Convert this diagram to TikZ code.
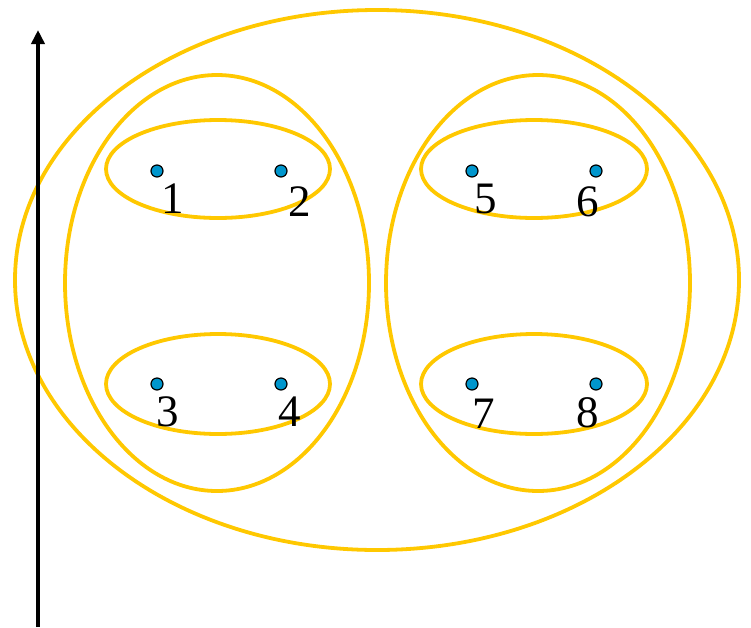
\documentclass[tikz,border=0pt]{standalone}
\usepackage{fontspec}
\setmainfont{Liberation Serif}
\usetikzlibrary{arrows.meta}
\definecolor{ringyellow}{RGB}{255,200,0}
\definecolor{dotblue}{RGB}{0,150,205}
\begin{document}
\begin{tikzpicture}[x=1pt,y=-1pt,
  ring/.style={draw=ringyellow,line width=3.8pt},
  pt/.style={circle,draw=black,fill=dotblue,line width=1.2pt,minimum size=12pt,inner sep=0pt},
  lbl/.style={font=\fontsize{45}{45}\selectfont,inner sep=0pt}]
\useasboundingbox (0,0) rectangle (751,627);
% outer ellipse
\draw[ring] (377,280) ellipse [x radius=362, y radius=270];
% inner big ellipses
\draw[ring] (217,283) ellipse [x radius=152, y radius=208];
\draw[ring] (538,283) ellipse [x radius=152, y radius=208];
% small ellipses
\draw[ring] (218,169) ellipse [x radius=112, y radius=49];
\draw[ring] (218,384) ellipse [x radius=112, y radius=50];
\draw[ring] (534,169) ellipse [x radius=113, y radius=49];
\draw[ring] (534,384) ellipse [x radius=113, y radius=50];
% axis arrow
\coordinate (abot) at (38,627);
\coordinate (atop) at (38,30);
\draw[line width=4pt,-{Triangle[length=14pt,width=13pt]}] (abot) -- (atop);
% points
\node[pt] (p1) at (157,171) {};
\node[pt] (p2) at (281,171) {};
\node[pt] (p3) at (157,384) {};
\node[pt] (p4) at (281,384) {};
\node[pt] (p5) at (472,171) {};
\node[pt] (p6) at (596,171) {};
\node[pt] (p7) at (472,384) {};
\node[pt] (p8) at (596,384) {};
% labels
\node[lbl] (l1) at (173,199) {1};
\node[lbl] (l2) at (300,202) {2};
\node[lbl] (l3) at (168,412) {3};
\node[lbl] (l4) at (290,412) {4};
\node[lbl] (l5) at (486,199) {5};
\node[lbl] (l6) at (588,202) {6};
\node[lbl] (l7) at (484,414) {7};
\node[lbl] (l8) at (588,413) {8};
\end{tikzpicture}
\end{document}
